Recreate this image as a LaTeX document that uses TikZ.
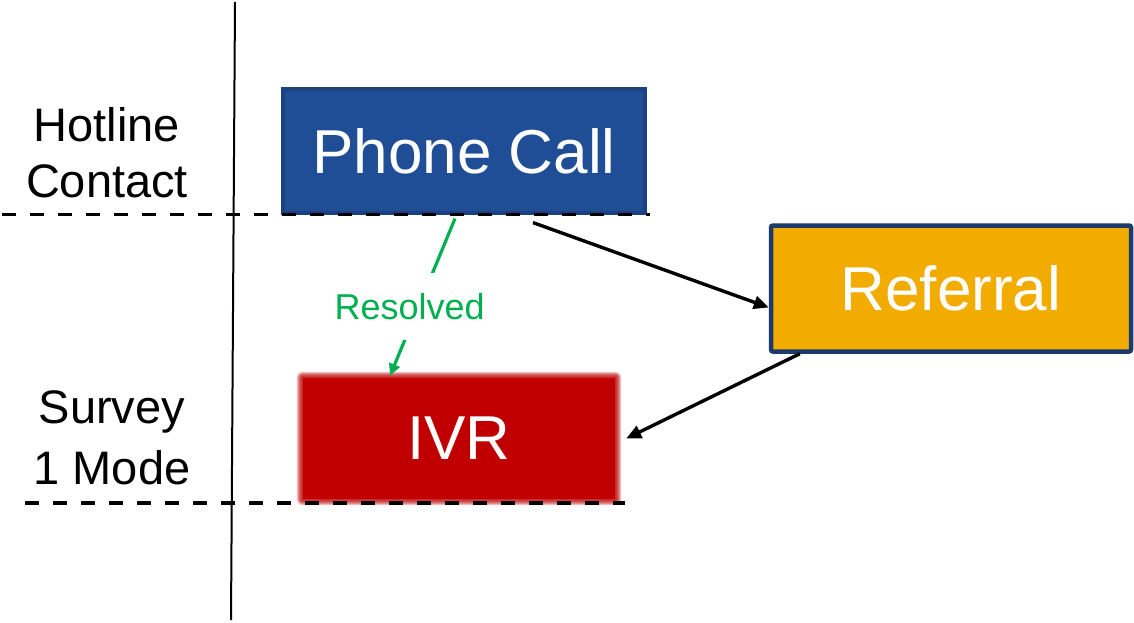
\documentclass[tikz,border=0pt]{standalone}
\usepackage{fontspec}
\setmainfont{Liberation Sans}
\usetikzlibrary{arrows.meta,backgrounds,calc}
\definecolor{pcblue}{HTML}{1F4E96}
\definecolor{pcborder}{HTML}{1B427F}
\definecolor{refyellow}{HTML}{F2AC00}
\definecolor{refborder}{HTML}{1C3A6E}
\definecolor{ivrred}{HTML}{C00000}
\definecolor{resgreen}{HTML}{00B050}
\begin{document}
\begin{tikzpicture}[x=1pt,y=-1pt,
  box/.style={rectangle, text=white, font=\fontsize{62}{74}\selectfont, inner sep=0pt},
  side/.style={align=center, font=\fontsize{47}{56}\selectfont},
  conn/.style={line width=3.4pt, -{Triangle[length=15pt,width=13pt]}},
  greenconn/.style={resgreen, line width=3.2pt, -{Triangle[length=12pt,width=11pt]}},
  divider/.style={line width=3.3pt, dash pattern=on 14pt off 14pt}]
\useasboundingbox (0,0) rectangle (1134,623);
% vertical separator
\draw[line width=2pt] (235,2) -- (231,620);
% boxes
\node[box, fill=pcblue, draw=pcborder, line width=3.2pt, minimum width=362pt, minimum height=124pt] (pc) at (464,151) {Phone Call};
\node[box, fill=refyellow, draw=refborder, line width=4.5pt, rounded corners=2pt, minimum width=360pt, minimum height=126pt] (ref) at (951,288.5) {Referral};
\node[box, fill=ivrred, minimum width=312pt, minimum height=121pt] (ivr) at (459,438.5) {IVR};
\begin{scope}[on background layer]
  \fill[white] (0,0) rectangle (1134,623);
  \foreach \d in {1,...,6} {
    \fill[ivrred, opacity=0.25, rounded corners=\d pt]
      ([shift={(-\d pt,\d pt)}]ivr.north west) rectangle ([shift={(\d pt,-\d pt)}]ivr.south east);
  }
\end{scope}
% dashed dividers
\draw[divider] (2,214.5) -- (650,214.5);
\draw[divider] (25,503) -- (625,503);
% row labels
\node[side] (hot) at (107,153) {Hotline\\Contact};
\node[side, font=\fontsize{47}{61}\selectfont] (sur) at (112,438) {Survey\\1 Mode};
% connectors
\draw[conn] ([xshift=69pt,yshift=-8pt]pc.south) -- ([yshift=-19pt]ref.west);
\draw[conn] ([xshift=31pt]ref.south west) -- ([xshift=11pt]ivr.east);
\draw[greenconn] ([xshift=-9pt,yshift=-4pt]pc.south) --
  node[pos=0.56, xshift=-9pt, fill=white, inner xsep=1pt, inner ysep=20pt, text=resgreen, font=\fontsize{36}{43}\selectfont] (res) {Resolved}
  ([xshift=-69pt,yshift=2pt]ivr.north);
\end{tikzpicture}
\end{document}
